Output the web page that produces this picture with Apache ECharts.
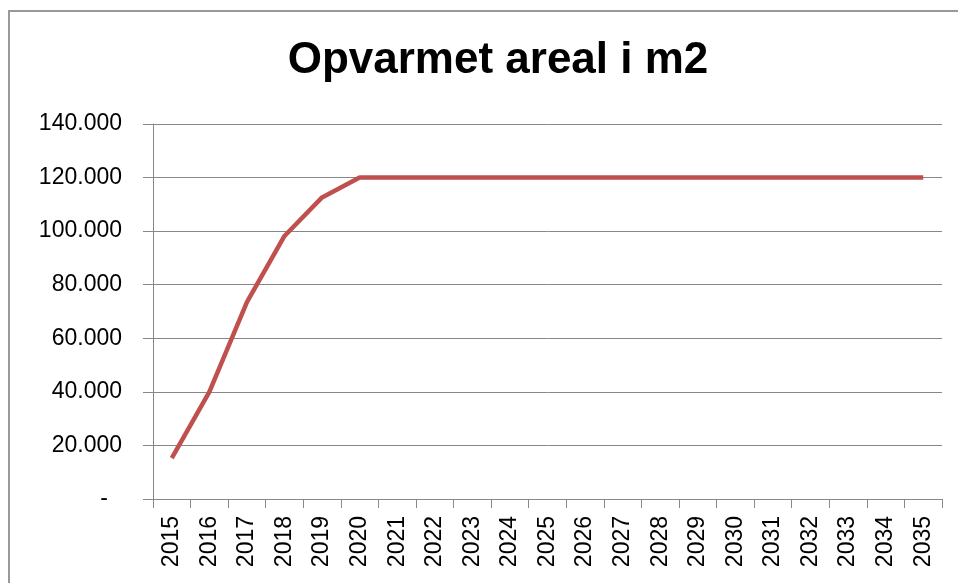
<!DOCTYPE html>
<html>
<head>
<meta charset="utf-8">
<script src="https://cdn.jsdelivr.net/npm/echarts@6/dist/echarts.min.js"></script>
<style>
  html, body { margin: 0; padding: 0; background: #fff; }
  #chart { width: 958px; height: 583px; }
</style>
</head>
<body>
<div id="chart"></div>
<script>
var years = ['2015','2016','2017','2018','2019','2020','2021','2022','2023','2024','2025',
             '2026','2027','2028','2029','2030','2031','2032','2033','2034','2035'];
// opvarmet areal i m2
var areal = [15300, 40000, 73500, 98200, 112600, 120000, 120000, 120000, 120000, 120000, 120000,
             120000, 120000, 120000, 120000, 120000, 120000, 120000, 120000, 120000, 120000];

var myChart = echarts.init(document.getElementById('chart'));

// 140000 -> "140.000", 0 -> "-"
function fmt(v) {
    if (v === 0) return '{d|-}';
    return String(v).replace(/\B(?=(\d{3})+(?!\d))/g, '.');
}

var option = {
    animation: false,
    title: {
        text: 'Opvarmet areal i m2',
        left: 493,
        textAlign: 'center',
        top: 34,
        textStyle: {
            fontFamily: 'Liberation Sans',
            fontWeight: 'bold',
            fontSize: 44,
            color: '#000'
        }
    },
    graphic: [{
        type: 'rect',
        shape: { x: 9, y: 11, width: 980, height: 600 },
        style: { fill: 'none', stroke: '#999', lineWidth: 2 }
    }],
    grid: { left: 153, right: 16, top: 124, bottom: 84 },
    xAxis: {
        type: 'category',
        data: years,
        boundaryGap: true,
        axisLine: { lineStyle: { color: '#888', width: 1 } },
        axisTick: { show: true, length: 9, lineStyle: { color: '#888' } },
        axisLabel: {
            rotate: 90,
            interval: 0,
            margin: 17,
            fontFamily: 'Liberation Sans',
            fontSize: 23,
            color: '#000'
        }
    },
    yAxis: {
        type: 'value',
        min: 0,
        max: 140000,
        interval: 20000,
        axisLine: { show: true, lineStyle: { color: '#888', width: 1 } },
        axisTick: { show: true, length: 10, lineStyle: { color: '#888' } },
        splitLine: { lineStyle: { color: '#888', width: 1 } },
        axisLabel: {
            formatter: fmt,
            margin: 31,
            fontFamily: 'Liberation Sans',
            fontSize: 23,
            color: '#000',
            rich: { d: { fontSize: 23, fontFamily: 'Liberation Sans', padding: [0, 14, 0, 0], color: '#000' } }
        }
    },
    series: [{
        name: 'Opvarmet areal',
        type: 'line',
        data: areal,
        showSymbol: false,
        lineStyle: { color: '#C0504D', width: 4.5 },
        itemStyle: { color: '#C0504D' }
    }]
};
myChart.setOption(option);
</script>
</body>
</html>
